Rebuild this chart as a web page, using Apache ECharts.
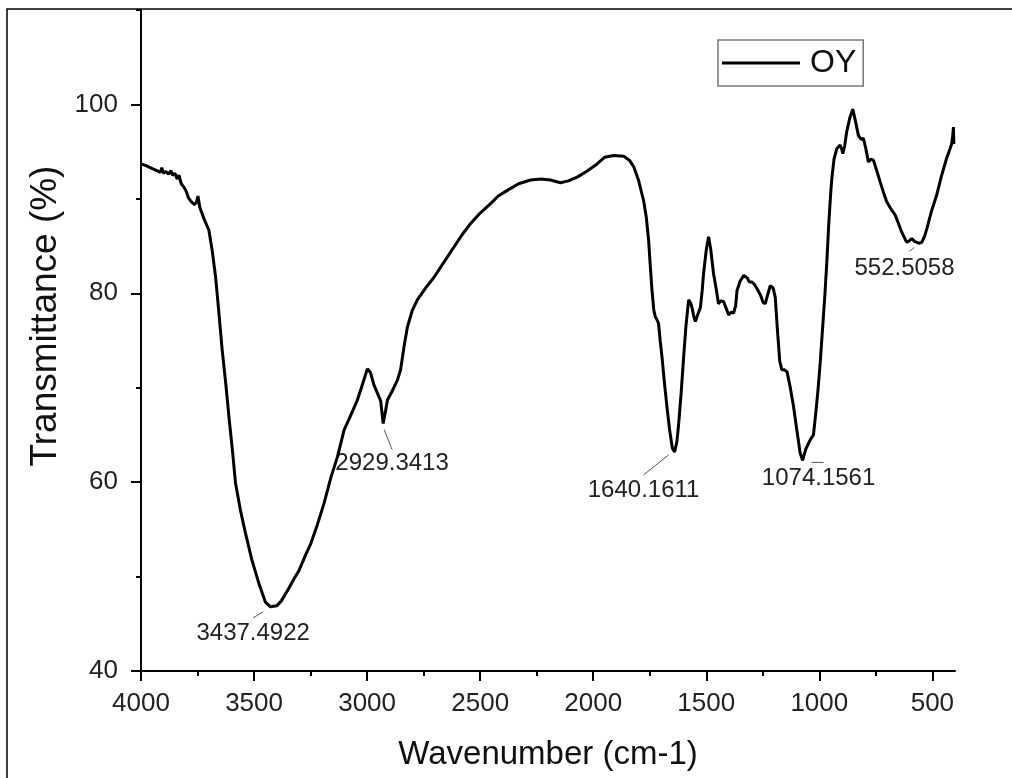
<!DOCTYPE html>
<html>
<head>
<meta charset="utf-8">
<script src="https://cdn.jsdelivr.net/npm/echarts@6/dist/echarts.min.js"></script>
<style>html,body{margin:0;padding:0;background:#fff}#c{width:1012px;height:778px}</style>
</head>
<body>
<div id="c"></div>
<script>
// ---- data ----
const wavenumbers = [4000,3975,3950,3930,3915,3908,3900,3890,3878,3868,3860,3850,3840,3832,3822,3812,3800,3790,3778,3765,3755,3748,3740,3720,3700,3685,3670,3655,3641,3625,3611,3595,3582,3560,3538,3510,3479,3450,3427,3400,3380,3350,3320,3302,3270,3249,3220,3190,3160,3131,3102,3070,3043,3020,2999,2985,2970,2954,2940,2929,2918,2910,2890,2866,2852,2837,2822,2800,2778,2740,2704,2660,2616,2580,2542,2500,2454,2420,2380,2330,2277,2230,2189,2145,2110,2071,2030,1983,1950,1909,1865,1840,1821,1800,1777,1765,1755,1748,1740,1732,1725,1718,1711,1704,1696,1685,1674,1662,1650,1640,1630,1622,1611,1600,1590,1578,1570,1563,1555,1548,1540,1526,1518,1512,1500,1490,1480,1468,1455,1446,1435,1423,1412,1401,1390,1379,1370,1364,1350,1334,1318,1310,1298,1286,1276,1260,1248,1239,1228,1217,1205,1195,1185,1175,1166,1155,1143,1130,1114,1100,1085,1074,1060,1040,1026,1015,1005,996,985,975,967,958,950,945,935,923,908,900,896,888,879,865,852,840,827,815,805,795,783,772,761,745,731,715,702,680,665,650,636,620,613,600,591,580,569,560,547,535,525,505,481,460,437,422,415,410,407,405];
const transmittance = [93.7,93.5,93.2,93.0,92.8,93.3,92.7,92.9,92.6,93.0,92.5,92.7,92.1,92.5,91.6,91.3,90.8,90.1,89.7,89.4,89.6,90.3,89.1,87.8,86.7,84.5,81.7,77.8,74.0,70.4,66.9,63.2,59.9,57.0,54.6,51.8,49.3,47.3,46.8,46.9,47.4,48.6,49.9,50.6,52.4,53.5,55.5,57.8,60.5,62.7,65.5,67.2,68.7,70.4,72.0,71.6,70.3,69.4,68.6,66.2,67.6,68.7,69.6,70.8,71.9,74.3,76.4,78.2,79.3,80.6,81.7,83.3,84.9,86.2,87.4,88.5,89.5,90.3,90.9,91.6,92.0,92.1,92.0,91.7,91.9,92.3,92.9,93.7,94.4,94.6,94.5,94.1,93.4,92.0,89.8,88.0,85.6,83.0,80.3,78.2,77.5,77.2,76.8,75.0,73.3,70.5,68.0,65.5,63.6,63.2,64.3,66.2,69.5,73.3,76.5,79.3,79.0,78.5,77.5,77.0,77.6,78.5,80.3,82.1,84.6,86.0,84.6,82.1,80.3,78.9,79.2,79.1,78.4,77.7,78.0,77.9,78.7,80.3,81.3,81.9,81.6,81.2,81.2,80.9,80.5,79.8,79.0,78.9,79.9,80.8,80.6,79.6,76.0,72.8,71.9,71.9,71.7,70.2,68.0,65.6,63.1,62.3,63.5,64.5,65.0,67.5,70.0,72.7,76.5,80.0,83.3,87.5,90.5,92.1,94.2,95.3,95.7,95.2,94.8,95.6,97.1,98.6,99.5,98.2,96.7,96.3,96.4,95.4,93.9,94.2,94.1,92.9,91.8,90.6,89.7,88.8,88.3,87.4,86.5,85.7,85.4,85.6,85.8,85.5,85.4,85.3,85.4,86.0,86.8,88.6,90.4,92.4,94.3,95.3,95.8,96.7,97.6,95.8];

const seriesName = 'OY';
const xTickLabels = [4000, 3500, 3000, 2500, 2000, 1500, 1000, 500];
const xMinorTicks = [3750, 3250, 2750, 2250, 1750, 1250, 750];
const yTickLabels = [40, 60, 80, 100];
const yMinorTicks = [50, 70, 90, 110];

const peakWavenumbers = [3437.4922, 2929.3413, 1640.1611, 1074.1561, 552.5058];
const peakValues = [46.8, 66.2, 63.2, 62.3, 85.4];
const peakLabels = ['3437.4922', '2929.3413', '1640.1611', '1074.1561', '552.5058'];

// ---- styling of annotations (offsets in px from the peak point) ----
const annoStyle = [
  {dx: -15, dy: 27, l: [-5, 5, -15, 11]},
  {dx: 9, dy: 40, l: [1, 6, 9, 26]},
  {dx: -31, dy: 38, l: [-6, 3, -31, 23]},
  {dx: 16, dy: 18, l: [9, 2, 21, 2]},
  {dx: -16, dy: 26, l: [-6, 5, -11, 9]}
];

const FONT = '"Liberation Sans", Arial, Helvetica, sans-serif';
const data = wavenumbers.map((w, i) => [w, transmittance[i]]);
const plain = v => String(v);

const chart = echarts.init(document.getElementById('c'), null, {renderer: 'canvas'});

const option = {
  animation: false,
  backgroundColor: '#fff',
  grid: {left: 141, top: 10, right: 57, bottom: 107},
  legend: {
    data: [seriesName],
    left: 718, top: 40,
    icon: 'rect', itemWidth: 78, itemHeight: 3,
    borderColor: '#777', borderWidth: 1.5, borderRadius: 0,
    padding: [6, 7, 6, 4],
    itemStyle: {color: '#000'},
    textStyle: {fontFamily: FONT, fontSize: 32, color: '#111', lineHeight: 34, padding: [0, 0, 0, 5]}
  },
  xAxis: [{
    type: 'value', min: 400, max: 4000, inverse: true,
    axisLine: {show: true, onZero: false, lineStyle: {color: '#000', width: 2}},
    axisTick: {show: true, length: 10, inside: false, customValues: xTickLabels, lineStyle: {color: '#000', width: 2}},
    axisLabel: {customValues: xTickLabels, formatter: plain, margin: 20, fontFamily: FONT, fontSize: 26, color: '#222'},
    splitLine: {show: false}
  }, {
    type: 'value', min: 400, max: 4000, inverse: true, position: 'bottom',
    axisLine: {show: false},
    axisTick: {show: true, length: 5, customValues: xMinorTicks, lineStyle: {color: '#000', width: 2}},
    axisLabel: {show: false},
    splitLine: {show: false}
  }],
  yAxis: [{
    type: 'value', min: 40, max: 110,
    axisLine: {show: true, onZero: false, lineStyle: {color: '#000', width: 2}},
    axisTick: {show: true, length: 10, customValues: yTickLabels, lineStyle: {color: '#000', width: 2}},
    axisLabel: {customValues: yTickLabels, formatter: plain, margin: 23, fontFamily: FONT, fontSize: 26, color: '#222'},
    splitLine: {show: false}
  }, {
    type: 'value', min: 40, max: 110, position: 'left',
    axisLine: {show: false},
    axisTick: {show: true, length: 5, customValues: yMinorTicks, lineStyle: {color: '#000', width: 2}},
    axisLabel: {show: false},
    splitLine: {show: false}
  }],
  series: [{
    name: seriesName, type: 'line', data: data,
    xAxisIndex: 0, yAxisIndex: 0,
    showSymbol: false, symbol: 'none', smooth: false,
    lineStyle: {color: '#000', width: 3},
    itemStyle: {color: '#000'}
  }]
};
chart.setOption(option);

const elements = [
  {type: 'rect', shape: {x: 7, y: 9, width: 1100, height: 900}, style: {fill: 'none', stroke: '#000', lineWidth: 1.5}, silent: true},
  {type: 'text', x: 548, y: 755, style: {text: 'Wavenumber (cm-1)', font: '33px ' + FONT, fill: '#111', align: 'center', verticalAlign: 'middle'}},
  {type: 'text', x: 46, y: 316, rotation: Math.PI / 2, style: {text: 'Transmittance (%)', font: '37px ' + FONT, fill: '#111', align: 'center', verticalAlign: 'middle'}}
];
peakWavenumbers.forEach((w, i) => {
  const p = chart.convertToPixel({xAxisIndex: 0, yAxisIndex: 0}, [w, peakValues[i]]);
  const s = annoStyle[i];
  elements.push({type: 'line', shape: {x1: p[0] + s.l[0], y1: p[1] + s.l[1], x2: p[0] + s.l[2], y2: p[1] + s.l[3]}, style: {stroke: '#555', lineWidth: 1}});
  elements.push({type: 'text', x: p[0] + s.dx, y: p[1] + s.dy, style: {text: peakLabels[i], font: '24px ' + FONT, fill: '#222', align: 'center', verticalAlign: 'middle'}});
});
chart.setOption({graphic: {elements: elements}});
</script>
</body>
</html>
